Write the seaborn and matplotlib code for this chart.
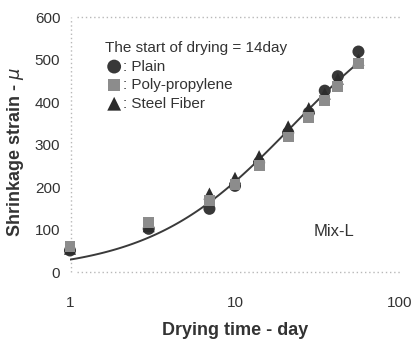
import numpy as np
import pandas as pd
import matplotlib
matplotlib.use("Agg")
import matplotlib.pyplot as plt
import seaborn as sns

sns.set_theme(style="white")
plt.rcParams['font.family'] = ['Liberation Sans', 'DejaVu Sans']

# Measured shrinkage strain (micro-strain) against drying time (days)
days = [1, 3, 7, 10, 14, 21, 28, 35, 42, 56]
plain = [51, 102, 149, 203, 258, 328, 375, 427, 461, 519]
poly_propylene = [61, 117, 168, 207, 251, 318, 363, 403, 437, 491]
steel_fiber = [55, 108, 185, 222, 273, 343, 386, 420, 455, 500]

# Prediction curve of the form eps = eps_u * t / (t_half + t)
eps_ultimate = 690.0
t_half = 22.4
curve_t = np.logspace(0, np.log10(57), 120)
curve_eps = eps_ultimate * curve_t / (t_half + curve_t)

y_ticks = [0, 100, 200, 300, 400, 500, 600]
x_ticks = [1, 10, 100]
x_tick_labels = ["1", "10", "100"]

W, H = 414, 341
fig = plt.figure(figsize=(W / 100, H / 100), dpi=100)
ax = fig.add_axes([70 / W, 1 - 290 / H, (400 - 70) / W, (290 - 15) / H])

sns.lineplot(x=curve_t, y=curve_eps, ax=ax, color="#3a3a3a", lw=1.4, zorder=2)

df = pd.DataFrame({"day": days, "plain": plain, "pp": poly_propylene, "steel": steel_fiber})
sns.scatterplot(data=df, x="day", y="plain", ax=ax, marker="o", s=75,
                color="#383838", edgecolor="none", zorder=3, label=": Plain", clip_on=False)
sns.scatterplot(data=df, x="day", y="steel", ax=ax, marker="^", s=75,
                color="#2c2c2c", edgecolor="none", zorder=4, label=": Steel Fiber", clip_on=False)
sns.scatterplot(data=df, x="day", y="pp", ax=ax, marker="s", s=62,
                color="#8c8c8c", edgecolor="none", zorder=5, label=": Poly-propylene", clip_on=False)

ax.set_xscale("log")
ax.set_xlim(1, 100)
ax.set_ylim(-42, 605)
ax.set_xticks(x_ticks)
ax.set_xticklabels(x_tick_labels)
ax.set_yticks(y_ticks)
ax.minorticks_off()

for s in ax.spines.values():
    s.set_visible(False)

# faint dotted frame lines
ax.axhline(0, color="#b8b8b8", lw=1.0, ls=(0, (1, 2)), xmin=0.02, zorder=1)
ax.axhline(600, color="#b8b8b8", lw=1.0, ls=(0, (1, 2)), xmin=0.02, zorder=1)
ax.plot([1.02, 1.02], [0, 600], color="#b8b8b8", lw=1.0, ls=(0, (1, 2)), zorder=1)

ax.tick_params(axis="y", length=3, color="#c0c0c0", labelsize=11, labelcolor="#333333", pad=4)
ax.tick_params(axis="x", length=0, labelsize=11, labelcolor="#333333", pad=4)

ax.set_xlabel("Drying time - day", fontsize=13, fontweight="bold", color="#333333", labelpad=9)
ax.set_ylabel("Shrinkage strain - $\\mu$", fontsize=13, fontweight="bold", color="#333333", labelpad=6)

handles, labels = ax.get_legend_handles_labels()
order = [labels.index(": Plain"), labels.index(": Poly-propylene"), labels.index(": Steel Fiber")]
leg = ax.legend([handles[i] for i in order], [labels[i] for i in order],
                title="The start of drying = 14day", loc="upper left",
                bbox_to_anchor=(105 / W, 1 - 41 / H), bbox_transform=fig.transFigure,
                frameon=False, fontsize=11, title_fontsize=11, borderpad=0,
                labelspacing=0.3, handletextpad=0.0, handlelength=1.2,
                borderaxespad=0, markerscale=1.15)
leg._legend_box.align = "left"
for t in leg.get_texts():
    t.set_color("#333333")
leg.get_title().set_color("#333333")

fig.text(314 / W, 1 - 232 / H, "Mix-L", fontsize=12, color="#333333", va="center", ha="left")

fig.savefig("out.png", dpi=100, facecolor="white")
